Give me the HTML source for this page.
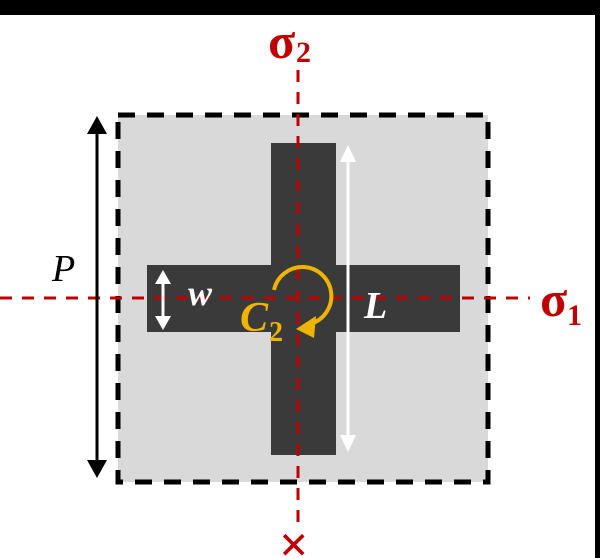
<html><head><style>body{margin:0;width:600px;height:558px;background:#fff;overflow:hidden}</style></head><body>
<svg width="600" height="558" xmlns="http://www.w3.org/2000/svg">
<rect x="0" y="0" width="600" height="15" fill="#000"/>
<rect x="595" y="0" width="5" height="558" fill="#000"/>
<rect x="118" y="115" width="370" height="367" fill="#d9d9d9"/>
<rect x="118" y="115" width="370" height="367" fill="none" stroke="#000" stroke-width="5" stroke-dasharray="17,12"/>
<rect x="271" y="143" width="65" height="312" fill="#3a3a3a"/>
<rect x="147" y="265" width="313" height="67" fill="#3a3a3a"/>
<line x1="298" y1="70" x2="298" y2="525" stroke="#c00000" stroke-width="3" stroke-dasharray="12,10"/>
<line x1="0" y1="298" x2="530" y2="298" stroke="#c00000" stroke-width="3" stroke-dasharray="12,10"/>
<line x1="97" y1="128" x2="97" y2="465" stroke="#000" stroke-width="3"/>
<polygon points="97,116 87,134 107,134" fill="#000"/>
<polygon points="97,478 87,460 107,460" fill="#000"/>
<line x1="348" y1="158" x2="348" y2="438" stroke="#fff" stroke-width="3"/>
<polygon points="348,145 340,162 356,162" fill="#fff"/>
<polygon points="348,452 340,435 356,435" fill="#fff"/>
<line x1="163" y1="280" x2="163" y2="318" stroke="#fff" stroke-width="3"/>
<polygon points="163,270 155,284 171,284" fill="#fff"/>
<polygon points="163,330 155,316 171,316" fill="#fff"/>
<path d="M274,290 A29,29 0 1 1 310,324" fill="none" stroke="#f0b400" stroke-width="4"/>
<polygon points="296,329 316,316 314,338" fill="#f0b400"/>
<g font-family="Liberation Serif, serif" font-weight="bold" font-style="italic">
<text x="268" y="58" font-size="50" fill="#c00000" font-style="normal">σ</text>
<text x="296" y="62" font-size="30" fill="#c00000" font-style="normal">2</text>
<text x="540" y="316" font-size="50" fill="#c00000" font-style="normal">σ</text>
<text x="567" y="325" font-size="30" fill="#c00000" font-style="normal">1</text>
<text x="279" y="562" font-size="52" fill="#c00000" font-style="normal" font-weight="bold">×</text>
<text x="52" y="281" font-size="38" fill="#000" font-weight="normal">P</text>
<text x="188" y="305" font-size="36" fill="#fff">w</text>
<text x="364" y="318" font-size="38" fill="#fff">L</text>
<text x="240" y="331" font-size="42" fill="#f0b400">C</text>
<text x="269" y="341" font-size="28" fill="#f0b400" font-style="normal">2</text>
</g>
</svg>
</body></html>
